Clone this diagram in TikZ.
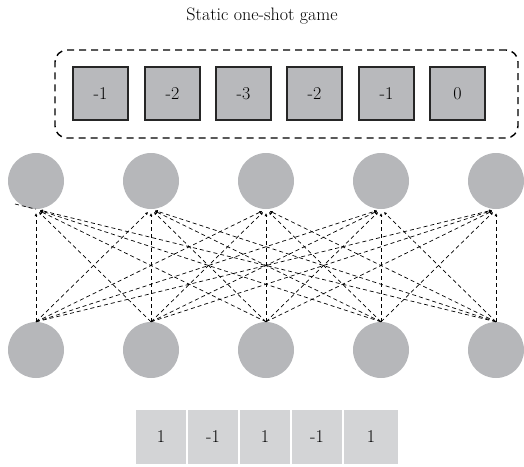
\documentclass[tikz,border=0pt]{standalone}
\usetikzlibrary{arrows.meta}
\definecolor{circgray}{HTML}{B6B7BA}
\definecolor{payfill}{HTML}{B8B9BC}
\definecolor{stratfill}{HTML}{D3D4D6}

\begin{document}
\begin{tikzpicture}[x=1pt,y=-1pt,
  every node/.style={font=\fontsize{18}{21}\selectfont},
  player/.style={circle,fill=circgray,minimum size=56pt,inner sep=0pt},
  payoff/.style={draw=black!85,line width=1.3pt,fill=payfill,minimum width=55pt,minimum height=53pt,inner sep=0pt},
  strat/.style={fill=stratfill,minimum width=50pt,minimum height=54pt,inner sep=0pt},
  link/.style={dash pattern=on 4pt off 3pt,line width=0.7pt,-{Latex[length=3pt,width=3pt]},shorten >=4pt}]
\useasboundingbox (0,0) rectangle (524,466);
\node (title) at (262,16) {Static one-shot game};
% payoff row
\node[draw=black,line width=1.4pt,dash pattern=on 7pt off 5pt,rounded corners=12pt,
  minimum width=463pt,minimum height=88pt] (frame) at (286.5,94) {};
\node[payoff] (P1) at (100.5,93.5) {-1};
\node[payoff] (P2) at (172.5,93.5) {-2};
\node[payoff] (P3) at (243.5,93.5) {-3};
\node[payoff] (P4) at (314.5,93.5) {-2};
\node[payoff] (P5) at (386.5,93.5) {-1};
\node[payoff] (P6) at (457.5,93.5) {0};
% players
\node[player] (T1) at (36,181) {};
\node[player] (T2) at (151,181) {};
\node[player] (T3) at (266,181) {};
\node[player] (T4) at (381,181) {};
\node[player] (T5) at (496,181) {};
\node[player] (B1) at (36,350) {};
\node[player] (B2) at (151,350) {};
\node[player] (B3) at (266,350) {};
\node[player] (B4) at (381,350) {};
\node[player] (B5) at (496,350) {};
\coordinate (tail) at (15,204);
% links
\draw [link] (B1.north) to (T1.south);
\draw [link] (B1.north) to (T2.south);
\draw [link] (B1.north) to (T3.south);
\draw [link] (B1.north) to (T4.south);
\draw [link] (B1.north) to (T5.south);
\draw [link] (B2.north) to (T1.south);
\draw [link] (B2.north) to (T2.south);
\draw [link] (B2.north) to (T3.south);
\draw [link] (B2.north) to (T4.south);
\draw [link] (B2.north) to (T5.south);
\draw [link] (B3.north) to (T1.south);
\draw [link] (B3.north) to (T2.south);
\draw [link] (B3.north) to (T3.south);
\draw [link] (B3.north) to (T4.south);
\draw [link] (B3.north) to (T5.south);
\draw [link] (B4.north) to (T1.south);
\draw [link] (B4.north) to (T2.south);
\draw [link] (B4.north) to (T3.south);
\draw [link] (B4.north) to (T4.south);
\draw [link] (B4.north) to (T5.south);
\draw [link] (B5.north) to (T1.south);
\draw [link] (B5.north) to (T2.south);
\draw [link] (B5.north) to (T3.south);
\draw [link] (B5.north) to (T4.south);
\draw [link] (B5.north) to (T5.south);
\draw [dash pattern=on 4pt off 3pt,line width=0.7pt] (tail) to (T1.south);
% strategy row
\node[strat] (S1) at (161,437) {1};
\node[strat] (S2) at (213,437) {-1};
\node[strat] (S3) at (265,437) {1};
\node[strat] (S4) at (317,437) {-1};
\node[strat,minimum width=54pt] (S5) at (371,437) {1};
\end{tikzpicture}
\end{document}
